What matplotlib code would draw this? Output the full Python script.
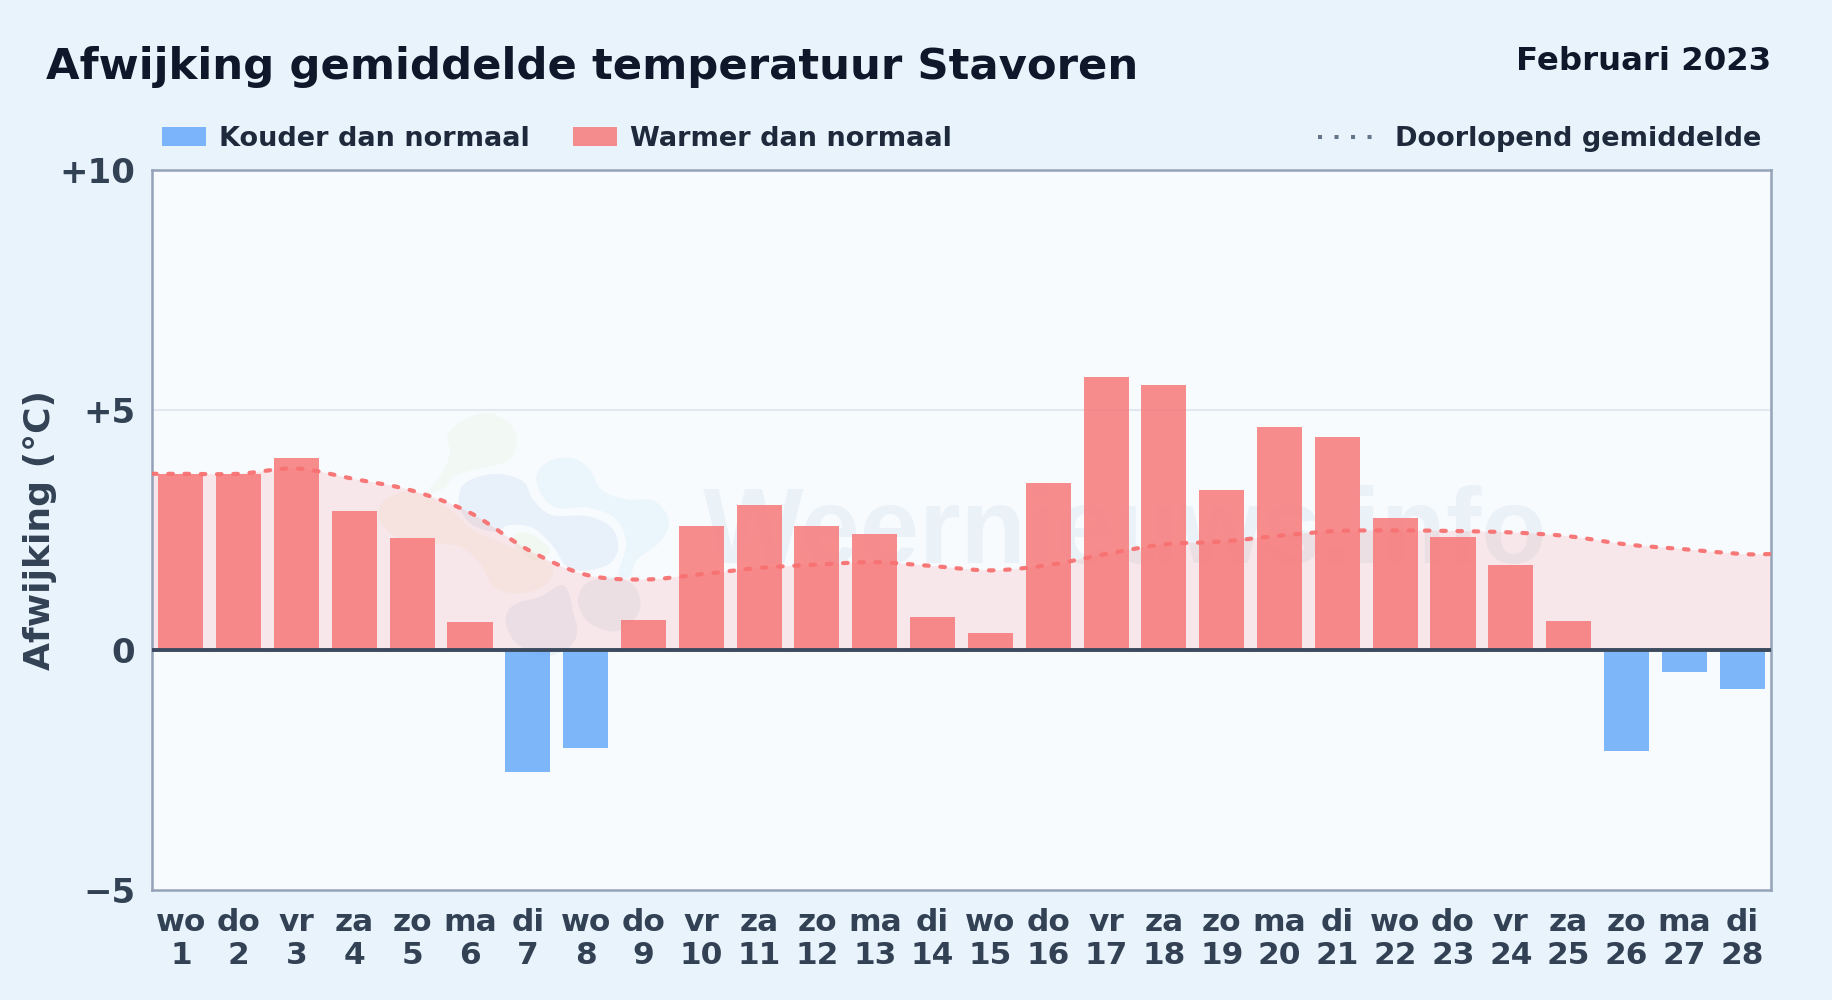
#!python
# -*- coding: utf-8 -*-
import matplotlib
matplotlib.use("Agg")
import matplotlib.pyplot as plt
from matplotlib.patches import PathPatch, Rectangle
from matplotlib.path import Path
from matplotlib.lines import Line2D

WIDTH, HEIGHT = 1832, 1000

days = list(range(1, 29))
weekdays = ["wo", "do", "vr", "za", "zo", "ma", "di", "wo", "do", "vr", "za", "zo", "ma", "di",
            "wo", "do", "vr", "za", "zo", "ma", "di", "wo", "do", "vr", "za", "zo", "ma", "di"]
deviation = [3.67, 3.67, 4.0, 2.9, 2.34, 0.58, -2.53, -2.04, 0.63, 2.58, 3.02, 2.58, 2.41, 0.68,
             0.36, 3.48, 5.69, 5.52, 3.33, 4.65, 4.43, 2.75, 2.36, 1.78, 0.61, -2.09, -0.46, -0.8]
running_mean = [3.67, 3.67, 3.78, 3.56, 3.32, 2.86, 2.09, 1.57, 1.47, 1.58, 1.71, 1.78, 1.83, 1.75,
                1.66, 1.77, 2.0, 2.2, 2.26, 2.38, 2.48, 2.49, 2.48, 2.45, 2.37, 2.2, 2.1, 2.0]
y_ticks = [-5, 0, 5, 10]
y_tick_labels = ["\u22125", "0", "+5", "+10"]

RED = "#f87171"
BLUE = "#60a5fa"
DARK = "#0f172a"
TICK = "#334155"

blobs = [
    ("#a3c94f", 0.06, [(235, 100), (300, 50), (370, 42), (430, 85), (440, 140), (410, 185), (330, 205),
                       (260, 225), (220, 265), (170, 280), (215, 220), (240, 160)]),
    ("#a3c94f", 0.07, [(440, 400), (490, 405), (540, 450), (500, 480), (460, 460), (430, 430)]),
    ("#f0c060", 0.07, [(25, 330), (60, 290), (130, 275), (230, 320), (310, 390), (400, 430), (480, 465),
                       (550, 500), (520, 560), (440, 580), (370, 560), (330, 490), (270, 440), (190, 430),
                       (100, 420), (40, 380)]),
    ("#3b7dc4", 0.075, [(275, 260), (320, 232), (390, 222), (460, 245), (490, 300), (545, 345), (650, 348),
                        (722, 380), (745, 440), (720, 490), (650, 512), (590, 500), (550, 440), (490, 385),
                        (420, 375), (370, 395), (300, 370), (268, 315)]),
    ("#5aa9e6", 0.07, [(500, 225), (540, 182), (610, 175), (660, 210), (695, 270), (770, 298), (850, 302),
                       (897, 360), (870, 425), (800, 480), (780, 530), (745, 525), (768, 430), (735, 355),
                       (650, 322), (565, 325), (515, 285)]),
    ("#3b6fa0", 0.07, [(410, 640), (440, 610), (510, 590), (575, 555), (600, 590), (610, 640), (622, 690),
                       (600, 740), (520, 770), (440, 730), (410, 680)]),
    ("#3b6fa0", 0.06, [(625, 590), (650, 550), (720, 530), (790, 555), (812, 620), (780, 670), (730, 695),
                       (660, 670), (630, 630)]),
]


def smooth_path(xs, ys):
    # catmull-rom through the values, as bezier segments
    xs = [xs[0]] + list(xs) + [xs[-1]]
    ys = [ys[0]] + list(ys) + [ys[-1]]
    verts = [(xs[1], ys[1])]
    codes = [Path.MOVETO]
    for i in range(1, len(xs) - 2):
        c1 = (xs[i] + (xs[i + 1] - xs[i - 1]) / 6, ys[i] + (ys[i + 1] - ys[i - 1]) / 6)
        c2 = (xs[i + 1] - (xs[i + 2] - xs[i]) / 6, ys[i + 1] - (ys[i + 2] - ys[i]) / 6)
        verts += [c1, c2, (xs[i + 1], ys[i + 1])]
        codes += [Path.CURVE4] * 3
    return verts, codes


def closed_blob(points):
    n = len(points)
    verts = [points[0]]
    codes = [Path.MOVETO]
    for i in range(n):
        p0, p1, p2, p3 = points[i - 1], points[i], points[(i + 1) % n], points[(i + 2) % n]
        verts.append((p1[0] + (p2[0] - p0[0]) / 6, p1[1] + (p2[1] - p0[1]) / 6))
        verts.append((p2[0] - (p3[0] - p1[0]) / 6, p2[1] - (p3[1] - p1[1]) / 6))
        verts.append(p2)
        codes += [Path.CURVE4] * 3
    return Path(verts, codes)


def main():
    fig = plt.figure(figsize=(WIDTH / 100, HEIGHT / 100), dpi=100, facecolor="#e8f3fc")
    ax = fig.add_axes([152 / WIDTH, 1 - 890.3 / HEIGHT, (1771 - 152) / WIDTH, 720.6 / HEIGHT])
    ax.set_facecolor("#f7fbfe")
    ax.set_xlim(0.5, 28.5)
    ax.set_ylim(-5, 10)

    # watermark, in pixels from the top left of the figure
    px = matplotlib.transforms.Affine2D().scale(1, -1).translate(0, HEIGHT)
    crop = matplotlib.transforms.Affine2D().scale(1 / 3).translate(370, 400) + px
    for color, alpha, points in blobs:
        ax.add_patch(PathPatch(closed_blob(points), transform=crop, facecolor=color, edgecolor="none",
                               alpha=alpha, zorder=1))
    ax.text(703, 563, "Weernieuws.info", transform=px, fontsize=76.7, family="Liberation Sans",
            fontweight="bold", color="#2563a8", alpha=0.06, ha="left", va="baseline", zorder=1)

    ax.axhline(5, color="#e2e8f0", lw=1.5, zorder=1)

    # running mean, flat out to both edges of the plot
    xs = [0.5] + days + [28.5]
    ys = [running_mean[0]] + running_mean + [running_mean[-1]]
    verts, codes = smooth_path(xs, ys)
    area = Path(verts + [(28.5, 0), (0.5, 0), verts[0]], codes + [Path.LINETO, Path.LINETO, Path.CLOSEPOLY])
    ax.add_patch(PathPatch(area, facecolor=RED, edgecolor="none", alpha=0.14, zorder=2))

    colors = [RED if v >= 0 else BLUE for v in deviation]
    ax.bar(days, deviation, width=0.78, color=colors, alpha=0.8, zorder=3)

    ax.add_patch(PathPatch(Path(verts, codes), facecolor="none", edgecolor=RED, lw=3, alpha=0.95,
                           linestyle=(0, (1.1, 2.8)), capstyle="round", zorder=4))

    ax.axhline(0, color="#3b4a5f", lw=2.8, zorder=5)

    for s in ax.spines.values():
        s.set_color("#94a3b8")
        s.set_linewidth(1.8)

    ax.set_yticks(y_ticks)
    ax.set_yticklabels(y_tick_labels, fontsize=24.5, fontweight="bold", color=TICK)
    ax.set_xticks(days)
    ax.set_xticklabels([w + "\n" + str(d) for w, d in zip(weekdays, days)], fontsize=22.5, fontweight="bold",
                       color=TICK, linespacing=1.15)
    ax.tick_params(axis="both", length=0)
    ax.tick_params(axis="y", pad=12)
    ax.tick_params(axis="x", pad=13)

    fig.text(23 / WIDTH, 1 - 530 / HEIGHT, "Afwijking (\u00b0C)", rotation=90, fontsize=26, fontweight="bold",
             color=TICK, ha="left", va="center")
    fig.text(46 / WIDTH, 1 - 79.5 / HEIGHT, "Afwijking gemiddelde temperatuur Stavoren", fontsize=31.27,
             fontweight="bold", color=DARK, ha="left", va="baseline")
    fig.text(1771 / WIDTH, 1 - 70 / HEIGHT, "Februari 2023", fontsize=23.3, fontweight="bold", color=DARK,
             ha="right", va="baseline")

    # legend row
    ax_legend = [(162, BLUE, 219, "Kouder dan normaal"), (573, RED, 630, "Warmer dan normaal")]
    for x0, color, xt, label in ax_legend:
        fig.add_artist(Rectangle((x0 / WIDTH, 1 - 146 / HEIGHT), 44 / WIDTH, 19 / HEIGHT, facecolor=color,
                                 alpha=0.8, edgecolor="none", transform=fig.transFigure))
        fig.text(xt / WIDTH, 1 - 146.5 / HEIGHT, label, fontsize=19.5, fontweight="bold", color="#1e293b",
                 ha="left", va="baseline")
    fig.add_artist(Line2D([1317.5 / WIDTH, 1373 / WIDTH], [1 - 136.7 / HEIGHT] * 2, color="#64748b", lw=2.9,
                          linestyle=(0, (1, 3.1)), transform=fig.transFigure))
    fig.text(1761 / WIDTH, 1 - 146.5 / HEIGHT, "Doorlopend gemiddelde", fontsize=19.5, fontweight="bold",
             color="#1e293b", ha="right", va="baseline")

    fig.savefig("out.png", dpi=100, facecolor=fig.get_facecolor())


if __name__ == '__main__':
    main()
